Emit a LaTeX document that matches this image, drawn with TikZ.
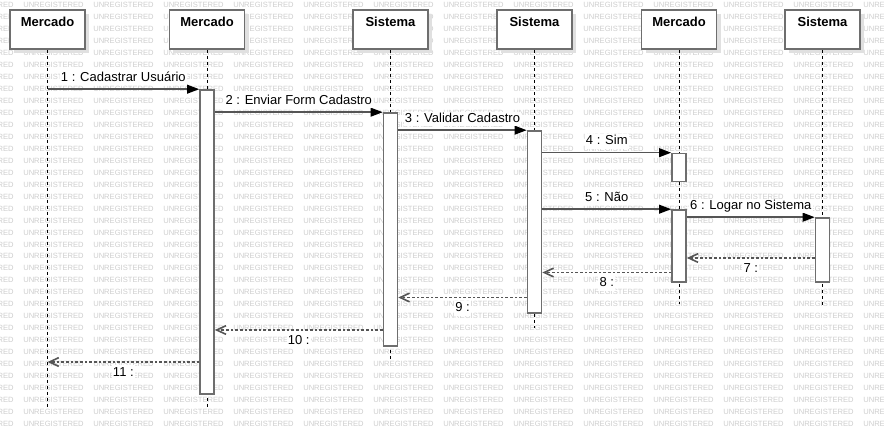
\documentclass[tikz,border=0pt]{standalone}
\usepackage{fontspec}
\setmainfont{Liberation Sans}
\usetikzlibrary{arrows.meta,shadows}
\definecolor{linegray}{RGB}{85,85,85}
\definecolor{boxgray}{RGB}{110,110,110}
\definecolor{markgray}{RGB}{205,205,205}

\begin{document}
\begin{tikzpicture}[x=0.75pt, y=-0.75pt,
        head/.style = {draw=boxgray, fill=white, line width=1.2pt, minimum width=56.25pt,
                       inner ysep=0pt, text height=12.75pt, text depth=16.5pt,
                       font=\fontsize{9.75}{12}\selectfont\bfseries,
                       drop shadow={shadow xshift=3pt, shadow yshift=-3pt, fill=black!12, opacity=1}},
        life/.style = {black, line width=0.75pt, dash pattern=on 2.25pt off 2.25pt},
        act/.style = {draw=boxgray, fill=white, line width=1.2pt, minimum width=10.5pt, inner sep=0pt},
        msg/.style = {draw=linegray, line width=1.2pt, -{Triangle[length=9pt, width=6.5pt, black]}},
        ret/.style = {draw=linegray, line width=1.2pt, dash pattern=on 2pt off 1.5pt,
                      -{Straight Barb[length=7pt, width=6.5pt]}},
        lbl/.style = {fill=white, inner sep=1pt, text height=7pt, text depth=2pt,
                      font=\fontsize{9.75}{12}\selectfont},
        wmark/.style = {anchor=west, inner sep=0pt, text=markgray, font=\fontsize{5.7}{6}\selectfont},
    ]
    \useasboundingbox (0,0) rectangle (884,427);
    \clip (0,0) rectangle (884,427);

    \foreach \r in {0,...,35}
        \foreach \c in {-1,...,12}
            \node[wmark] (w\r-\c) at (23+70*\c, 5+11.97*\r) {UNREGISTERED};

    \node[head] (h1) at (47.5,29.5) {Mercado};
    \node[head] (h2) at (207,29.5) {Mercado};
    \node[head] (h3) at (390.5,29.5) {Sistema};
    \node[head] (h4) at (534.5,29.5) {Sistema};
    \node[head] (h5) at (679,29.5) {Mercado};
    \node[head] (h6) at (822.5,29.5) {Sistema};

    \coordinate (e1) at (47.5,408);
    \coordinate (e2) at (207,408);
    \coordinate (e3) at (390.5,359);
    \coordinate (e4) at (534.5,328);
    \coordinate (e5) at (679,304);
    \coordinate (e6) at (822.5,305);
    \foreach \i in {1,...,6}
        \draw[life] (h\i) -- (e\i);

    \node[act, minimum height=228pt] (a2) at (207,242) {};
    \node[act, minimum height=174.75pt] (a3) at (390.5,229.5) {};
    \node[act, minimum height=136.5pt] (a4) at (534.5,222) {};
    \node[act, minimum height=21pt] (a5) at (679,167.5) {};
    \node[act, minimum height=54pt] (a6) at (679,246) {};
    \node[act, minimum height=48pt] (a7) at (822.5,250) {};

    \coordinate (r7) at (0,258);
    \coordinate (r8) at (0,272.5);
    \coordinate (r9) at (0,297.5);
    \coordinate (r10) at (0,330);
    \coordinate (r11) at (0,362);

    \draw[msg] (h1 |- a2.north) -- (a2.north west) node[lbl, midway, above=2.25pt] (t1) {1 : Cadastrar Usuário};
    \draw[msg] (a2.east |- a3.north) -- (a3.north west) node[lbl, midway, above=2.25pt] (t2) {2 : Enviar Form Cadastro};
    \draw[msg] (a3.east |- a4.north) -- (a4.north west) node[lbl, midway, above=2.25pt] (t3) {3 : Validar Cadastro};
    \draw[msg] (a4.east |- a5.north) -- (a5.north west) node[lbl, midway, above=2.25pt] (t4) {4 : Sim};
    \draw[msg] (a4.east |- a6.north) -- (a6.north west) node[lbl, midway, above=2.25pt] (t5) {5 : Não};
    \draw[msg] (a6.east |- a7.north) -- (a7.north west) node[lbl, midway, above=2.25pt] (t6) {6 : Logar no Sistema};

    \draw[ret] (a7.west |- r7) -- (a6.east |- r7) node[lbl, midway, below=2pt] (t7) {7 :};
    \draw[ret] (a6.west |- r8) -- (a4.east |- r8) node[lbl, midway, below=2pt] (t8) {8 :};
    \draw[ret] (a4.west |- r9) -- (a3.east |- r9) node[lbl, midway, below=2pt] (t9) {9 :};
    \draw[ret] (a3.west |- r10) -- (a2.east |- r10) node[lbl, midway, below=2pt] (t10) {10 :};
    \draw[ret] (a2.west |- r11) -- (h1 |- r11) node[lbl, midway, below=2pt] (t11) {11 :};
\end{tikzpicture}
\end{document}
